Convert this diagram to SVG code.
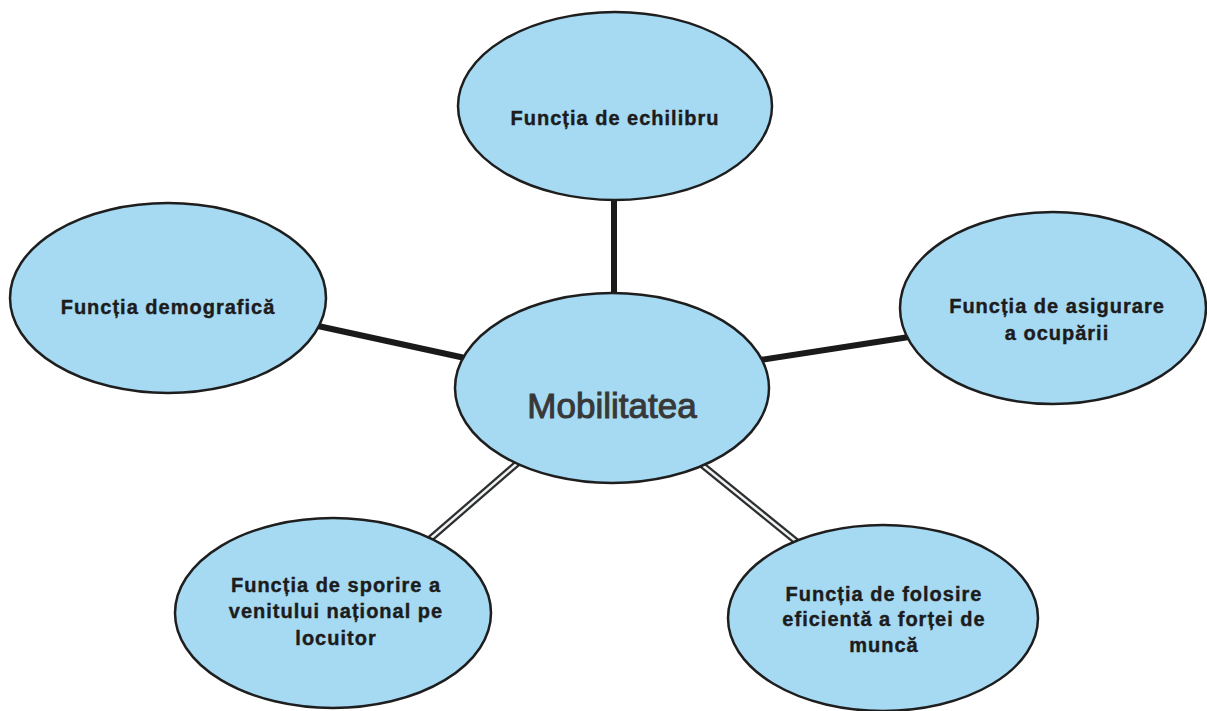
<svg xmlns="http://www.w3.org/2000/svg" width="1207" height="711" viewBox="0 0 1207 711">
  <style>
    .node ellipse { fill: #a6daf3; stroke: #1e1e1e; stroke-width: 2.5; }
    .lbl { font-family: "Liberation Sans", Arial, sans-serif; font-weight: bold; font-size: 20px; letter-spacing: 1px; fill: #1c1c1c; stroke: #1c1c1c; stroke-width: 0.4; text-anchor: middle; }
    .main { font-family: "Liberation Sans", Arial, sans-serif; font-size: 35px; fill: #383838; stroke: #383838; stroke-width: 1; text-anchor: middle; }
    .solid { stroke: #1a1a1a; stroke-width: 6; stroke-linecap: butt; }
    .dbl-out { stroke: #2e2e2e; stroke-width: 7; }
    .dbl-in { stroke: #eef3f5; stroke-width: 2.5; }
  </style>
  <rect width="1207" height="711" fill="#ffffff"/>
  <g id="connectors">
    <line class="solid" x1="614" y1="198" x2="614" y2="296"/>
    <line class="solid" x1="318" y1="326" x2="465" y2="358"/>
    <line class="solid" x1="760" y1="360" x2="909" y2="337"/>
    <line class="dbl-out" x1="430" y1="539" x2="520" y2="461"/>
    <line class="dbl-in" x1="430" y1="539" x2="520" y2="461"/>
    <line class="dbl-out" x1="701" y1="464" x2="797" y2="542"/>
    <line class="dbl-in" x1="701" y1="464" x2="797" y2="542"/>
  </g>
  <g id="node-top" class="node">
    <ellipse cx="615" cy="106" rx="157" ry="94"/>
    <text class="lbl" x="615" y="125">Funcția de echilibru</text>
  </g>
  <g id="node-left" class="node">
    <ellipse cx="168" cy="298" rx="158" ry="95"/>
    <text class="lbl" x="168" y="314">Funcția demografică</text>
  </g>
  <g id="node-right" class="node">
    <ellipse cx="1053" cy="308" rx="153" ry="96"/>
    <text class="lbl" x="1057" y="313">Funcția de asigurare</text>
    <text class="lbl" x="1057" y="340">a ocupării</text>
  </g>
  <g id="node-center" class="node">
    <ellipse cx="612" cy="388" rx="157" ry="95"/>
    <text class="main" x="612" y="418">Mobilitatea</text>
  </g>
  <g id="node-bottom-left" class="node">
    <ellipse cx="333" cy="613" rx="158" ry="95"/>
    <text class="lbl" x="336" y="592">Funcția de sporire a</text>
    <text class="lbl" x="336" y="618">venitului național pe</text>
    <text class="lbl" x="336" y="645">locuitor</text>
  </g>
  <g id="node-bottom-right" class="node">
    <ellipse cx="883" cy="618" rx="155" ry="93"/>
    <text class="lbl" x="884" y="601">Funcția de folosire</text>
    <text class="lbl" x="884" y="626">eficientă a forței de</text>
    <text class="lbl" x="884" y="652">muncă</text>
  </g>
</svg>
